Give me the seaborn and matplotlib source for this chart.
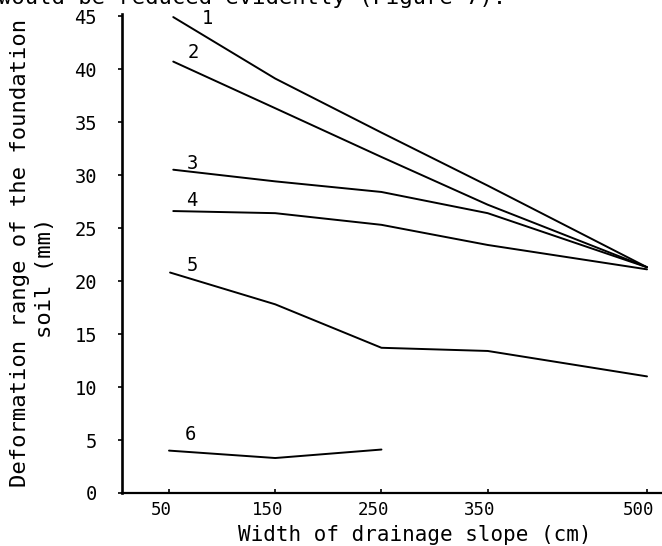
import matplotlib
matplotlib.use("Agg")
import matplotlib.pyplot as plt
import matplotlib.transforms as mtransforms
import seaborn as sns
import pandas as pd

# ---- data ----
x_ticks = [50, 150, 250, 350, 500]
y_ticks = [0, 5, 10, 15, 20, 25, 30, 35, 40, 45]

s1_x = [54, 150, 250, 350, 500]
s1_y = [44.9, 39.1, 34.0, 29.0, 21.3]
s2_x = [54, 150, 250, 350, 500]
s2_y = [40.7, 36.3, 31.7, 27.2, 21.3]
s3_x = [54, 150, 250, 350, 500]
s3_y = [30.5, 29.4, 28.4, 26.4, 21.3]
s4_x = [54, 150, 250, 350, 500]
s4_y = [26.6, 26.4, 25.3, 23.4, 21.1]
s5_x = [51, 150, 250, 350, 500]
s5_y = [20.8, 17.8, 13.7, 13.4, 11.0]
s6_x = [50, 150, 250]
s6_y = [4.0, 3.3, 4.1]

series_names = ["1", "2", "3", "4", "5", "6"]
label_x = [86, 72.6, 71.7, 71.7, 71.7, 69.8]
label_y = [44.8, 41.6, 31.1, 27.6, 21.5, 5.5]

x_label = "Width of drainage slope (cm)"
y_label_1 = "Deformation range of the foundation"
y_label_2 = "soil (mm)"
top_text = "would be reduced evidently (Figure 7)."

# ---- build long-form table ----
xs = [s1_x, s2_x, s3_x, s4_x, s5_x, s6_x]
ys = [s1_y, s2_y, s3_y, s4_y, s5_y, s6_y]
rows = []
for name, xx, yy in zip(series_names, xs, ys):
    for a, b in zip(xx, yy):
        rows.append({"width": a, "deform": b, "curve": name})
df = pd.DataFrame(rows)

sns.set_theme(style="ticks")
plt.rcParams["font.family"] = ["DejaVu Sans Mono", "DejaVu Sans"]

fig = plt.figure(figsize=(6.62, 5.46), dpi=100)
fig.patch.set_facecolor("white")
ax = fig.add_axes([122 / 662, 53 / 546, 540 / 662, 479 / 546])
ax.set_facecolor("white")

sns.lineplot(data=df, x="width", y="deform", hue="curve",
             palette=["black"] * 6, legend=False, linewidth=1.4,
             sort=True, estimator=None, ax=ax)

ax.set_xlim(5.75, 514.1)
ax.set_ylim(0, 45.19)
ax.set_xticks(x_ticks)
ax.set_yticks(y_ticks)
ax.set_xticklabels([str(v) for v in x_ticks])
ax.set_yticklabels([str(v) for v in y_ticks])
ax.set_xlabel("")
ax.set_ylabel("")

for side in ["top", "right"]:
    ax.spines[side].set_visible(False)
ax.spines["left"].set_linewidth(1.9)
ax.spines["bottom"].set_linewidth(1.6)
ax.spines["left"].set_color("black")
ax.spines["bottom"].set_color("black")

ax.tick_params(axis="x", direction="in", length=3, width=1.2, pad=6,
               labelsize=12.5, colors="black")
ax.tick_params(axis="y", direction="out", length=3, width=1.2, pad=15,
               labelsize=13.5, colors="black")

offset = mtransforms.ScaledTranslation(-8 / 100, 0, fig.dpi_scale_trans)
for lab in ax.get_xticklabels():
    lab.set_transform(lab.get_transform() + offset)

for name, lx, ly in zip(series_names, label_x, label_y):
    ax.text(lx, ly, name, ha="center", va="center", fontsize=13.5,
            color="black", clip_on=False)

fig.text(415 / 662, 1 - 541 / 546, x_label, ha="center", va="baseline",
         fontsize=15, color="black")
fig.text(20 / 662, 1 - 253 / 546, y_label_1, ha="center", va="center",
         rotation=90, fontsize=16, color="black")
fig.text(45 / 662, 1 - 278 / 546, y_label_2, ha="center", va="center",
         rotation=90, fontsize=16, color="black")
fig.text(-2 / 662, 1 - 4 / 546, top_text, ha="left", va="baseline",
         fontsize=16, color="black")

fig.savefig("out.png", dpi=100, facecolor="white")
